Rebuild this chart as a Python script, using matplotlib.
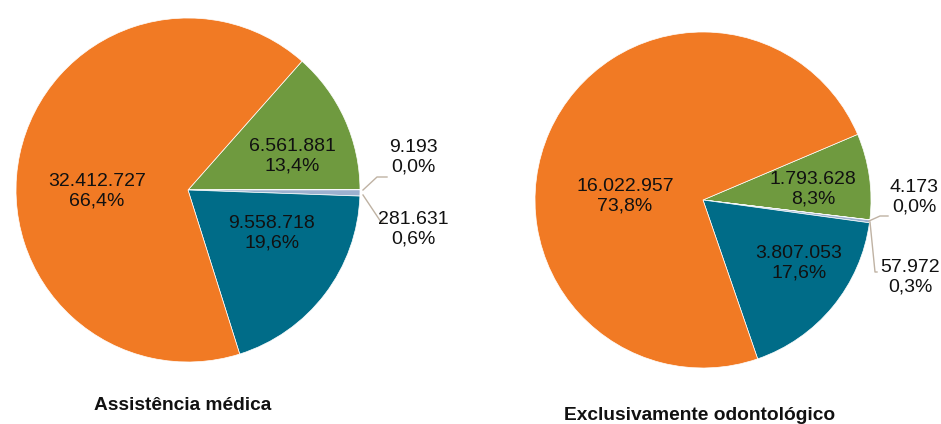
import matplotlib.pyplot as plt

plt.rcParams["font.family"] = ["Liberation Sans", "DejaVu Sans"]

# slices in clockwise drawing order: green, tiny, small, blue, orange
medica_values = [6561881, 9193, 281631, 9558718, 32412727]
medica_pcts = ["13,4%", "0,0%", "0,6%", "19,6%", "66,4%"]

odonto_values = [1793628, 4173, 57972, 3807053, 16022957]
odonto_pcts = ["8,3%", "0,0%", "0,3%", "17,6%", "73,8%"]

colors = ["#6F9A3F", "#C8D3E3", "#9DB1CF", "#006C88", "#F17A24"]

W, H = 941, 424


def fmt(v):
    return f"{v:,}".replace(",", ".")


def draw_pie(ax, values, pcts, center, radius, start, label_pos, leaders, title, title_pos):
    cx, cy = center
    ax.pie(values, colors=colors, startangle=start, counterclock=False,
           center=(cx, H - cy), radius=radius, frame=True,
           wedgeprops=dict(edgecolor="white", linewidth=0.5))
    for v, p, (lx, ly) in zip(values, pcts, label_pos):
        ax.text(lx, H - ly, f"{fmt(v)}\n{p}", ha="center", va="center",
                fontsize=14, linespacing=1.2, color="#111111")
    for pts in leaders:
        xs = [x for x, _ in pts]
        ys = [H - y for _, y in pts]
        ax.plot(xs, ys, color="#BFB2A3", lw=1.0)
    ax.text(title_pos[0], H - title_pos[1], title, ha="center", va="center",
            fontsize=13.8, fontweight="bold", color="#111111")


fig = plt.figure(figsize=(W / 100, H / 100), dpi=100)
ax = fig.add_axes([0, 0, 1, 1])

draw_pie(ax, medica_values, medica_pcts, (188, 190), 172, 48.5,
         [(292, 156), (413, 157), (413, 229), (272, 233), (97, 191)],
         [[(363, 190), (377, 177), (387, 177)],
          [(363, 195), (381, 222), (383, 222)]],
         "Assistência médica", (183, 405))

draw_pie(ax, odonto_values, odonto_pcts, (703, 200), 168, 23,
         [(813, 189), (914, 197), (910, 277), (799, 263), (625, 196)],
         [[(869, 221), (880, 216), (888, 216)],
          [(870, 222), (875, 272), (877, 272)]],
         "Exclusivamente odontológico", (700, 416))

ax.set_xlim(0, W)
ax.set_ylim(0, H)
ax.set_aspect("equal")
ax.axis("off")

fig.savefig("out.png", dpi=100)
